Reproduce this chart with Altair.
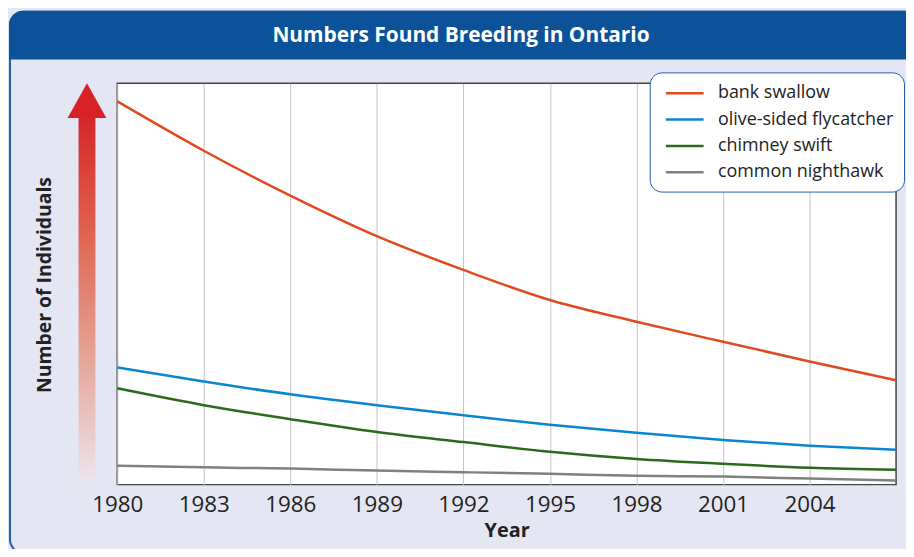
import altair as alt
import pandas as pd

years = [1980, 1983, 1986, 1989, 1992, 1995, 1998, 2001, 2004, 2007]
bank_swallow = [95.5, 83.2, 72.0, 61.9, 53.5, 46.0, 40.6, 35.6, 30.7, 26.0]
olive_sided_flycatcher = [29.2, 25.7, 22.5, 19.8, 17.3, 14.9, 12.9, 11.1, 9.7, 8.7]
chimney_swift = [24.0, 19.8, 16.3, 13.1, 10.6, 8.2, 6.4, 5.2, 4.2, 3.7]
common_nighthawk = [4.7, 4.3, 4.0, 3.5, 3.1, 2.7, 2.2, 2.0, 1.5, 1.0]

species = ["bank swallow", "olive-sided flycatcher", "chimney swift", "common nighthawk"]
colors = ["#E04A1F", "#0A86D0", "#2B6A1A", "#808080"]
tick_years = [1980, 1983, 1986, 1989, 1992, 1995, 1998, 2001, 2004]

series = [bank_swallow, olive_sided_flycatcher, chimney_swift, common_nighthawk]
rows = []
for name, vals in zip(species, series):
    for yr, v in zip(years, vals):
        rows.append({"Year": yr, "Value": v, "Species": name})
df = pd.DataFrame(rows)

one = pd.DataFrame({"k": [0]})
FONT = "Open Sans"

W, H = 784, 404

# Outer frame (stroke only; background is lavender)
frame = alt.Chart(one).mark_rect(
    filled=False, stroke="#1F5FA8", strokeWidth=2, cornerRadius=14
).encode(
    x=alt.value(-108), x2=alt.value(830), y=alt.value(-72), y2=alt.value(473)
)

# Title bar
title_bar = alt.Chart(one).mark_rect(
    color="#0B5299", cornerRadiusTopLeft=14, cornerRadiusTopRight=14
).encode(
    x=alt.value(-109), x2=alt.value(830), y=alt.value(-73), y2=alt.value(-24)
)

title_text = alt.Chart(one).mark_text(
    text="Numbers Found Breeding in Ontario", font=FONT, fontSize=21,
    fontWeight="bold", color="white", align="center", baseline="middle"
).encode(x=alt.value(346), y=alt.value(-48))

# Gradient arrow
shaft = alt.Chart(one).mark_rect(
    color=alt.Gradient(
        gradient="linear",
        stops=[
            alt.GradientStop(color="#D62528", offset=0),
            alt.GradientStop(color="#E06A55", offset=0.35),
            alt.GradientStop(color="#E5A395", offset=0.65),
            alt.GradientStop(color="#ECE4EC", offset=1),
        ],
        x1=0, x2=0, y1=0, y2=1,
    )
).encode(x=alt.value(-39), x2=alt.value(-22), y=alt.value(34), y2=alt.value(401))

head = alt.Chart(one).mark_point(
    shape="M -1 0.9 L 0 -0.9 L 1 0.9 Z", filled=True, color="#D62126",
    opacity=1, size=1521
).encode(x=alt.value(-30.5), y=alt.value(17.5))

y_title = alt.Chart(one).mark_text(
    text="Number of Individuals", font=FONT, fontSize=19.5, fontWeight="bold",
    color="#222222", angle=270, align="center", baseline="middle"
).encode(x=alt.value(-73), y=alt.value(203))

lines = alt.Chart(df).mark_line(strokeWidth=2.5, interpolate="monotone").encode(
    x=alt.X("Year:Q", scale=alt.Scale(domain=[1980, 2007], nice=False, zero=False),
            axis=alt.Axis(values=tick_years, format="d", grid=True, gridColor="#C4C4C4",
                          gridWidth=1, ticks=False, domain=False, labelFont=FONT,
                          labelFontSize=22.5, labelColor="#222222", labelPadding=9,
                          labelFlush=False,
                          title="Year", titleFont=FONT, titleFontSize=20,
                          titleFontWeight="bold", titleColor="#222222", titlePadding=5)),
    y=alt.Y("Value:Q", scale=alt.Scale(domain=[0, 100], nice=False),
            axis=alt.Axis(labels=False, ticks=False, grid=False, domain=False, title=None)),
    color=alt.Color("Species:N", sort=species,
                    scale=alt.Scale(domain=species, range=colors),
                    legend=alt.Legend(title=None, orient="none", legendX=536, legendY=-11)),
)

chart = alt.layer(frame, title_bar, title_text, shaft, head, y_title, lines).properties(
    width=W, height=H,
    autosize=alt.AutoSizeParams(type="none"),
    padding={"left": 110, "top": 74, "right": 10, "bottom": 63},
    background="#E4E7F3",
).configure_view(
    fill="white", stroke="#444444", strokeWidth=1.5
).configure_legend(
    fillColor="white", strokeColor="#1F5FA8", cornerRadius=12, padding=10,
    symbolType="M -0.5 0 L 3.5 0", symbolSize=361, symbolStrokeWidth=2.5,
    labelFont=FONT, labelFontSize=18, labelColor="#222222", labelOffset=36.75,
    rowPadding=6.5, labelLimit=400,
)

chart.save("out.html", embed_options={"renderer": "svg", "actions": False})
